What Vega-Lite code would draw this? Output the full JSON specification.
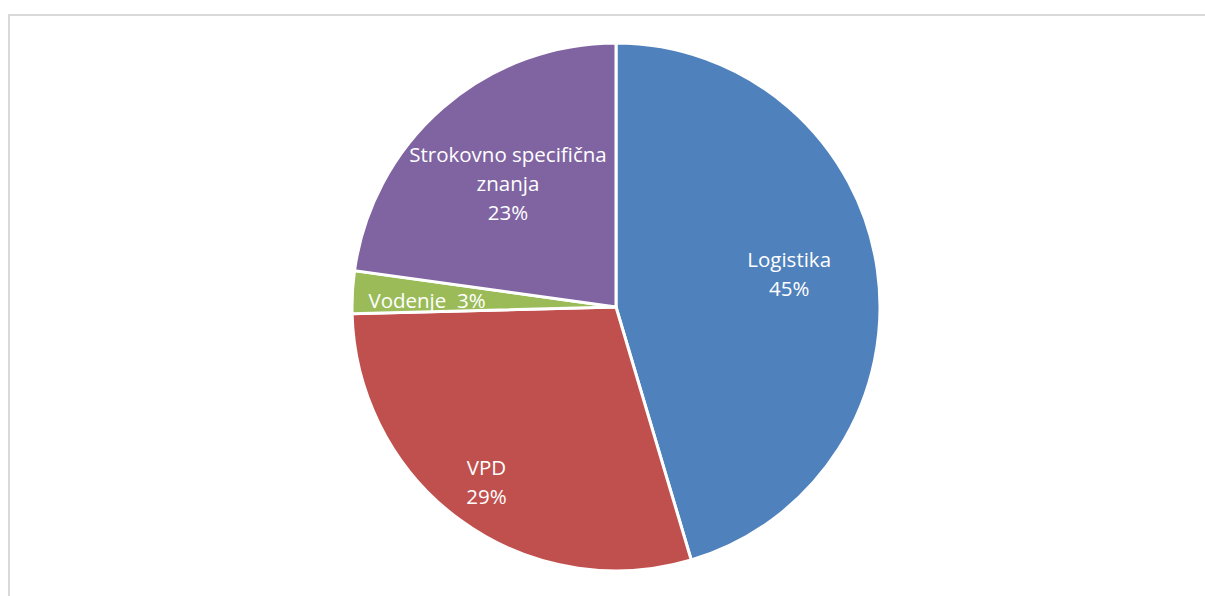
{
  "$schema": "https://vega.github.io/schema/vega-lite/v6.json",
  "width": 1214,
  "height": 584,
  "autosize": {"type": "none"},
  "padding": {"left": 9, "top": 15, "right": 0, "bottom": 0},
  "background": "white",
  "config": {"view": {"stroke": null}},
  "data": {
    "values": [
      {"category": "Logistika", "value": 45.4, "label": "Logistika\n45%", "order": 1},
      {"category": "VPD", "value": 29.2, "label": "VPD\n29%", "order": 2},
      {"category": "Vodenje", "value": 2.6, "label": "Vodenje\u00a0 3%", "order": 3},
      {"category": "Strokovno specifična znanja", "value": 22.8, "label": "Strokovno specifična\nznanja\n23%", "order": 4}
    ]
  },
  "layer": [
    {
      "data": {"values": [{"frame": 1}]},
      "mark": {"type": "rect", "fill": null, "stroke": "#d9d9d9", "strokeWidth": 2},
      "encoding": {}
    },
    {
      "mark": {"type": "arc", "outerRadius": 264, "stroke": "white", "strokeWidth": 3},
      "encoding": {
        "theta": {"field": "value", "type": "quantitative", "stack": true},
        "order": {"field": "order", "type": "quantitative"},
        "color": {
          "field": "category",
          "type": "nominal",
          "scale": {
            "domain": ["Logistika", "VPD", "Vodenje", "Strokovno specifična znanja"],
            "range": ["#4f81bd", "#c0504d", "#9bbb59", "#8064a2"]
          },
          "legend": null
        }
      }
    },
    {
      "mark": {"type": "text", "radius": 177, "dx": -2, "dy": -15, "fill": "white", "fontSize": 20.5, "font": "Open Sans", "lineBreak": "\n", "lineHeight": 29, "align": "center", "baseline": "alphabetic"},
      "encoding": {
        "theta": {"field": "value", "type": "quantitative", "stack": true},
        "order": {"field": "order", "type": "quantitative"},
        "text": {"condition": {"test": "datum.category === 'Logistika'", "field": "label"}, "value": ""}
      }
    },
    {
      "mark": {"type": "text", "radius": 212, "dx": -5, "dy": -3.5, "fill": "white", "fontSize": 20.5, "font": "Open Sans", "lineBreak": "\n", "lineHeight": 29, "align": "center", "baseline": "alphabetic"},
      "encoding": {
        "theta": {"field": "value", "type": "quantitative", "stack": true},
        "order": {"field": "order", "type": "quantitative"},
        "text": {"condition": {"test": "datum.category === 'VPD'", "field": "label"}, "value": ""}
      }
    },
    {
      "mark": {"type": "text", "radius": 188.6, "dx": -0.7, "dy": 12, "fill": "white", "fontSize": 20.5, "font": "Open Sans", "lineBreak": "\n", "lineHeight": 29, "align": "center", "baseline": "alphabetic"},
      "encoding": {
        "theta": {"field": "value", "type": "quantitative", "stack": true},
        "order": {"field": "order", "type": "quantitative"},
        "text": {"condition": {"test": "datum.category === 'Vodenje'", "field": "label"}, "value": ""}
      }
    },
    {
      "mark": {"type": "text", "radius": 180.7, "dx": 10.6, "dy": -9.2, "fill": "white", "fontSize": 20.5, "font": "Open Sans", "lineBreak": "\n", "lineHeight": 29, "align": "center", "baseline": "alphabetic"},
      "encoding": {
        "theta": {"field": "value", "type": "quantitative", "stack": true},
        "order": {"field": "order", "type": "quantitative"},
        "text": {"condition": {"test": "datum.category === 'Strokovno specifična znanja'", "field": "label"}, "value": ""}
      }
    }
  ]
}
